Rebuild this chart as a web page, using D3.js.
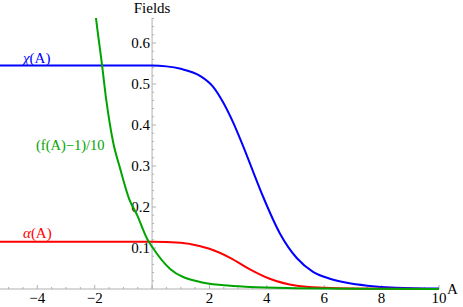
<!DOCTYPE html>
<html>
<head>
<meta charset="utf-8">
<script src="https://cdn.jsdelivr.net/npm/d3@7"></script>
<style>
body { margin: 0; background: #fff; }
</style>
</head>
<body>
<script>
// values
var chiA = [-5.3, 0, 0.5, 1.0, 1.67, 2.13, 2.47, 2.82, 3.17, 3.5, 3.87, 4.46, 5.05, 5.61, 6.2, 6.79, 7.5, 8.5, 10];
var chiV = [0.545, 0.545, 0.543, 0.537, 0.520, 0.493, 0.456, 0.407, 0.349, 0.29, 0.225, 0.135, 0.075, 0.042, 0.025, 0.015, 0.008, 0.003, 0.001];

var alphaA = [-5.3, 0, 1.0, 1.32, 2.0, 2.72, 3.41, 4.1, 5.05, 6, 7, 10];
var alphaV = [0.115, 0.115, 0.113, 0.110, 0.098, 0.076, 0.048, 0.025, 0.008, 0.003, 0.001, 0];

var fA = [-2.05, -1.97, -1.74, -1.6, -1.5, -1.36, -1.11, -0.8, -0.52, -0.17, 0, 0.63, 1.67, 2.5, 3.4, 5, 7, 10];
var fV = [0.72, 0.67, 0.544, 0.463, 0.415, 0.359, 0.293, 0.22, 0.18, 0.122, 0.103, 0.049, 0.017, 0.009, 0.005, 0.002, 0.0005, 0];

var xTicks = [-4, -2, 2, 4, 6, 8, 10];
var yTicks = [0.1, 0.2, 0.3, 0.4, 0.5, 0.6];

var width = 463, height = 307;
var serif = "'Liberation Serif', 'Times New Roman', 'DejaVu Serif', serif";

var svg = d3.select("body").append("svg")
    .attr("width", width)
    .attr("height", height)
    .attr("font-family", serif)
    .style("font-family", serif);

var x = d3.scaleLinear().domain([-5.3, 10]).range([0, 439]);
var y = d3.scaleLinear().domain([0, 0.661]).range([289, 18]);

svg.append("defs").append("clipPath").attr("id", "plot")
    .append("rect").attr("x", 0).attr("y", y(0.661)).attr("width", x(10) + 2).attr("height", y(0) - y(0.661) + 2);

//axes
var axisColor = "#b0b0b0";
svg.append("line").attr("x1", 0).attr("x2", x(10)).attr("y1", y(0)).attr("y2", y(0))
    .attr("stroke", axisColor).attr("stroke-width", 1);
svg.append("line").attr("x1", x(0)).attr("x2", x(0)).attr("y1", y(0)).attr("y2", y(0.661))
    .attr("stroke", axisColor).attr("stroke-width", 1);

//minor + major ticks on x
var xMinor = d3.range(-5, 10.01, 0.5);
svg.selectAll(".xt").data(xMinor).enter().append("line")
    .attr("x1", function(d){ return x(d); })
    .attr("x2", function(d){ return x(d); })
    .attr("y1", y(0))
    .attr("y2", function(d){ return y(0) - (Math.abs(d % 2) < 1e-6 ? 4 : 2); })
    .attr("stroke", axisColor);

var yMinor = d3.range(0.02, 0.661, 0.02);
svg.selectAll(".yt").data(yMinor).enter().append("line")
    .attr("y1", function(d){ return y(d); })
    .attr("y2", function(d){ return y(d); })
    .attr("x1", x(0))
    .attr("x2", function(d){ return x(0) + (Math.abs(Math.round(d * 50) % 5) == 0 ? 4 : 2); })
    .attr("stroke", axisColor);

svg.selectAll(".xl").data(xTicks).enter().append("text")
    .attr("x", function(d){ return x(d); })
    .attr("y", 303)
    .attr("text-anchor", "middle")
    .attr("font-size", 15)
    .text(function(d){ return d < 0 ? "\u2212" + Math.abs(d) : d; });

svg.selectAll(".yl").data(yTicks).enter().append("text")
    .attr("x", 150)
    .attr("y", function(d){ return y(d); })
    .attr("dy", "0.35em")
    .attr("text-anchor", "end")
    .attr("font-size", 15)
    .text(function(d){ return d.toFixed(1); });

svg.append("text").attr("x", x(0)).attr("y", 13).attr("text-anchor", "middle")
    .attr("font-size", 15).text("Fields");
svg.append("text").attr("x", 447).attr("y", 294)
    .attr("font-size", 15).text("A");

//curves
var line = d3.line()
    .x(function(d){ return x(d[0]); })
    .y(function(d){ return y(d[1]); })
    .curve(d3.curveMonotoneX);

var series = [
    {a: chiA, v: chiV, color: "#0000ff"},
    {a: alphaA, v: alphaV, color: "#ff0000"},
    {a: fA, v: fV, color: "#00a400"}
];

svg.append("g").attr("clip-path", "url(#plot)")
    .selectAll("path").data(series).enter().append("path")
    .attr("d", function(s){ return line(d3.zip(s.a, s.v)); })
    .attr("fill", "none")
    .attr("stroke", function(s){ return s.color; })
    .attr("stroke-width", 2);

//curve labels
svg.append("text").attr("x", 23).attr("y", 63).attr("font-size", 15)
    .attr("fill", "#0000ff").html('<tspan font-style="italic">\u03c7</tspan>(A)');
svg.append("text").attr("x", 23).attr("y", 238).attr("font-size", 15)
    .attr("fill", "#ff0000").html('<tspan font-style="italic">\u03b1</tspan>(A)');
svg.append("text").attr("x", 36).attr("y", 150).attr("font-size", 14.5)
    .attr("fill", "#00a400").text("(f(A)\u22121)/10");
</script>
</body>
</html>
